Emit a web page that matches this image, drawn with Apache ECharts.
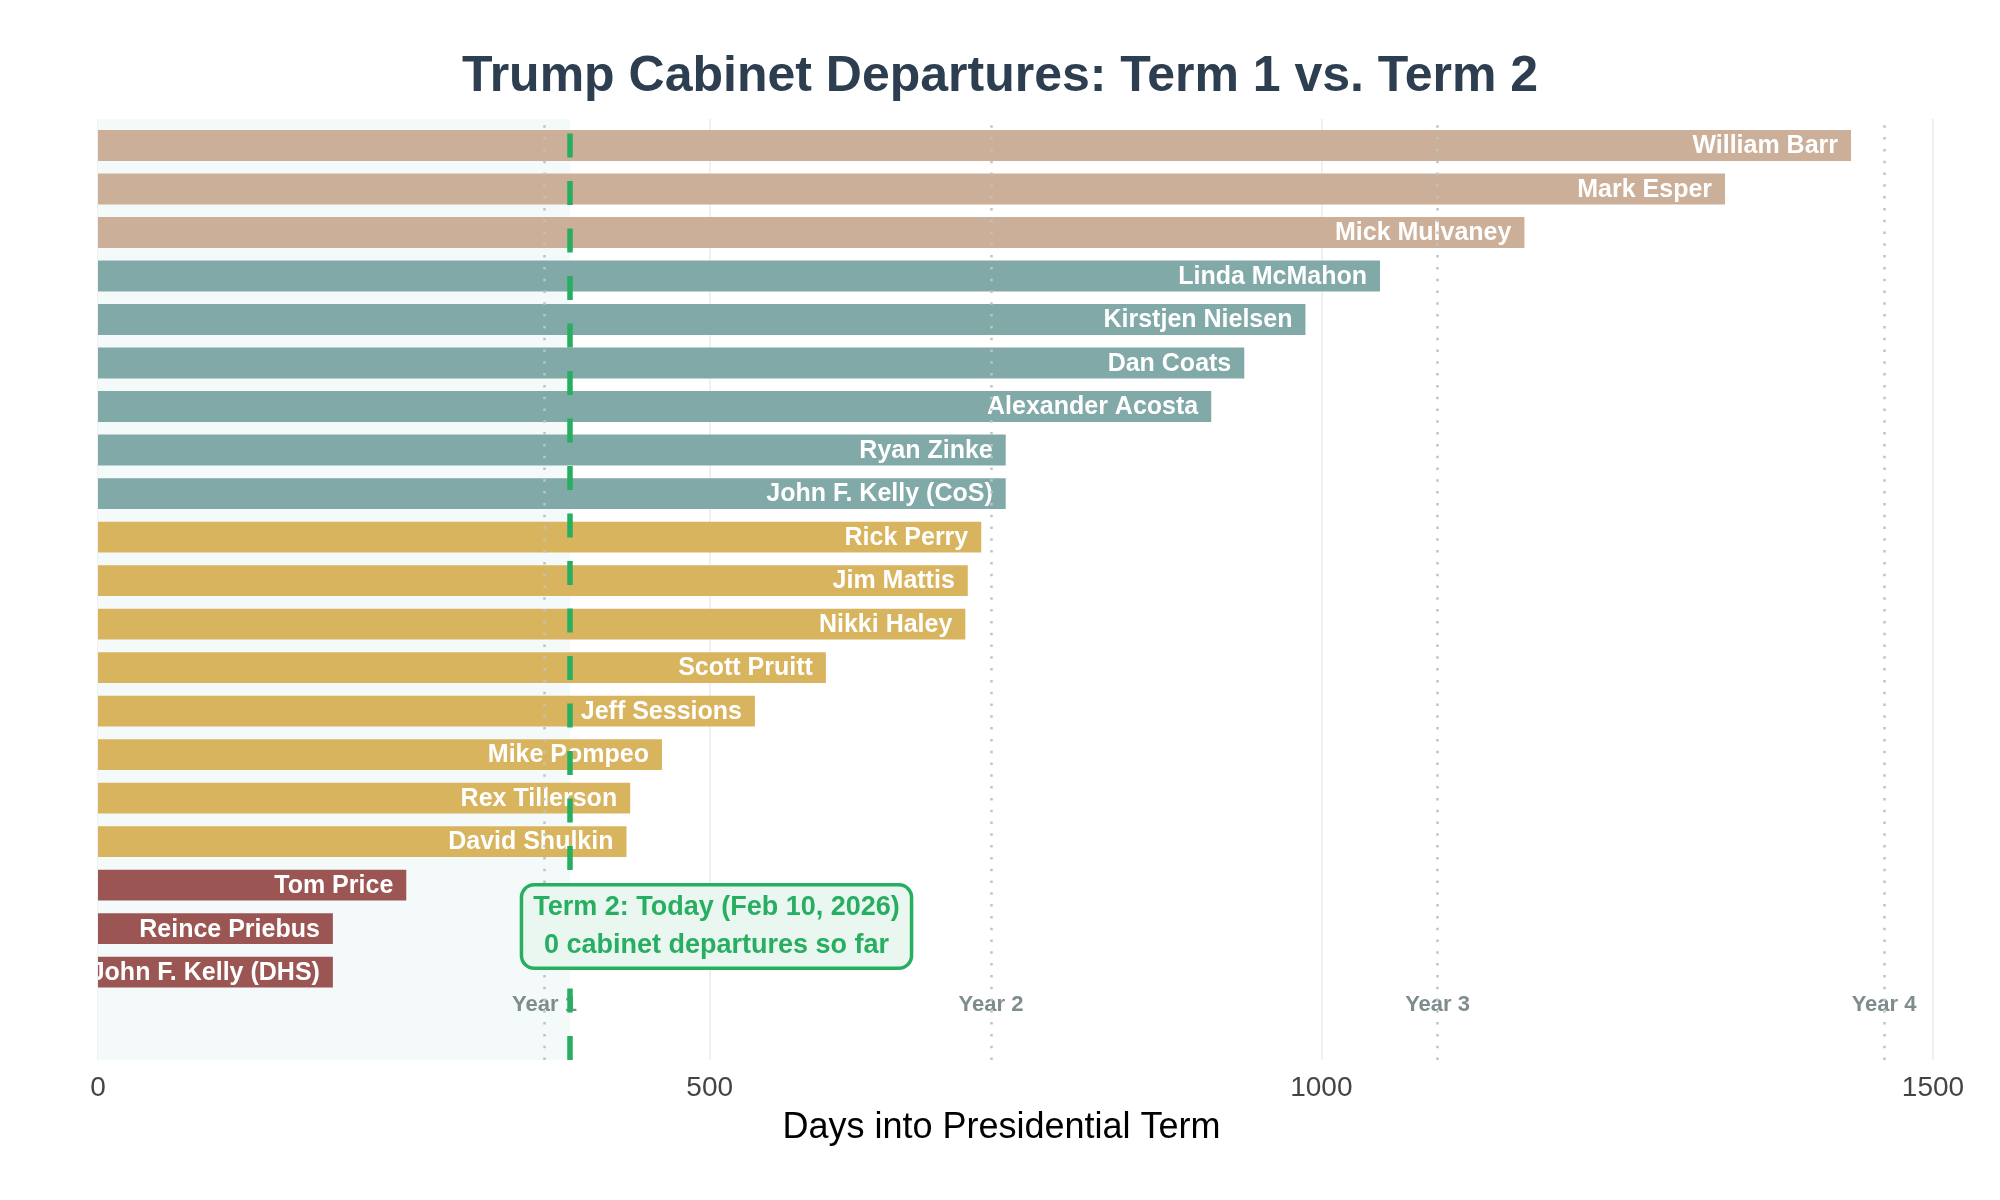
<!DOCTYPE html>
<html>
<head>
<meta charset="utf-8">
<script src="https://cdn.jsdelivr.net/npm/echarts@6/dist/echarts.min.js"></script>
<style>
html,body{margin:0;padding:0;background:#fff;}
#chart{width:2000px;height:1200px;}
</style>
</head>
<body>
<div id="chart"></div>
<script>
// Bottom-to-top order
const names = ["John F. Kelly (DHS)","Reince Priebus","Tom Price","David Shulkin","Rex Tillerson","Mike Pompeo","Jeff Sessions","Scott Pruitt","Nikki Haley","Jim Mattis","Rick Perry","John F. Kelly (CoS)","Ryan Zinke","Alexander Acosta","Dan Coats","Kirstjen Nielsen","Linda McMahon","Mick Mulvaney","Mark Esper","William Barr"];
const days = [192,192,252,432,435,461,537,595,709,711,722,742,742,910,937,987,1048,1166,1330,1433];
const departureYear = [2017,2017,2017,2018,2018,2018,2018,2018,2018,2018,2018,2019,2019,2019,2019,2019,2019,2020,2020,2020];
const yearColors = {2017:'#9b5654',2018:'#d9b45e',2019:'#81a9a8',2020:'#cbaf98'};
const yearMarks = [365,730,1095,1460];
const yearLabels = ["Year 1","Year 2","Year 3","Year 4"];
const todayDay = 386;
const annotationText = ["Term 2: Today (Feb 10, 2026)","0 cabinet departures so far"];
const xTicks = [0,500,1000,1500];

const FONT = "'Liberation Sans', Arial, sans-serif";
const chart = echarts.init(document.getElementById('chart'));

const barData = days.map((d,i)=>[d,i]);

chart.setOption({
  animation:false,
  backgroundColor:'#ffffff',
  title:{
    text:'Trump Cabinet Departures: Term 1 vs. Term 2',
    left:'center', top:47,
    textStyle:{fontFamily:FONT,fontWeight:'bold',fontSize:50,color:'#2c3e50'}
  },
  grid:{left:98,right:67,top:119,bottom:140},
  xAxis:{
    type:'value',min:0,max:1500,interval:500,
    axisLine:{show:false},axisTick:{show:false},
    axisLabel:{fontFamily:FONT,fontSize:28,color:'#444',margin:14,
      formatter:v=>xTicks.includes(v)?String(v):''},
    splitLine:{show:true,lineStyle:{color:'#ebebeb',width:1.5}},
    name:'Days into Presidential Term',nameLocation:'middle',nameGap:50,
    nameTextStyle:{fontFamily:FONT,fontSize:36,color:'#000',padding:[0,28,0,0]}
  },
  yAxis:{
    type:'value',min:-2.02,max:19.61,show:false,
    splitLine:{show:false}
  },
  series:[
    {
      type:'line',data:[],z:1,silent:true,
      markArea:{silent:true,itemStyle:{color:'#f4fafa'},
        data:[[{xAxis:0},{xAxis:todayDay}]]}
    },
    {
      type:'custom',z:2,clip:true,
      data:barData,
      renderItem:function(params,api){
        const v=api.value(0), idx=api.value(1);
        const p0=api.coord([0,idx]);
        const p1=api.coord([v,idx]);
        const h=api.size([0,0.71])[1];
        return {
          type:'group',
          children:[
            {type:'rect',shape:{x:p0[0],y:p0[1]-h/2,width:p1[0]-p0[0],height:h},
              style:{fill:yearColors[departureYear[idx]]}},
            {type:'text',x:p1[0]-13,y:p1[1]+1,
              style:{text:names[idx],fill:'#ffffff',align:'right',verticalAlign:'middle',
                font:"bold 25px "+FONT}}
          ]
        };
      }
    },
    {
      type:'line',data:[],z:3,silent:true,
      markLine:{silent:true,symbol:'none',label:{show:false},
        lineStyle:{color:'#bdc3c7',width:2.5,type:[2.5,9.3]},
        data:yearMarks.map(v=>({xAxis:v}))}
    },
    {
      type:'scatter',z:4,silent:true,symbolSize:1,
      itemStyle:{color:'rgba(0,0,0,0)',opacity:1},
      data:yearMarks.map((v,i)=>[v,-0.75,yearLabels[i]]),
      label:{show:true,position:'inside',formatter:p=>p.data[2],
        fontFamily:FONT,fontWeight:'bold',fontSize:22,color:'#7f8c8d'}
    },
    {
      type:'line',data:[],z:5,silent:true,
      markLine:{silent:true,symbol:'none',label:{show:false},
        lineStyle:{color:'#27ae60',width:5.5,type:[24,23.5]},
        data:[{xAxis:todayDay}]}
    },
    {
      type:'scatter',z:10,silent:true,symbolSize:1,
      itemStyle:{color:'rgba(0,0,0,0)',opacity:1},
      data:[[505.6,1.05]],
      label:{show:true,position:'inside',
        formatter:annotationText.join('\n'),
        fontFamily:FONT,fontWeight:'bold',fontSize:27,color:'#27ae60',lineHeight:38,
        align:'center',
        backgroundColor:'#e9f7f0',borderColor:'#27ae60',borderWidth:3.5,borderRadius:11,
        padding:[2,10,2,10]}
    }
  ]
});
</script>
</body>
</html>
